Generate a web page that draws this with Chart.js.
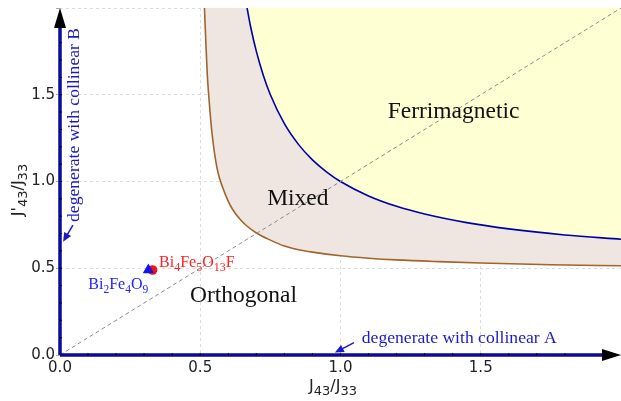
<!DOCTYPE html>
<html>
<head>
<meta charset="utf-8">
<script src="https://cdn.jsdelivr.net/npm/chart.js@4.4.0/dist/chart.umd.min.js"></script>
<style>
  html, body { margin: 0; padding: 0; background: #fff; overflow: hidden; }
  #wrap { width: 621px; height: 401px; }
</style>
</head>
<body>
<div id="wrap"><canvas id="phaseChart"></canvas></div>
<script>
// boundary Orthogonal / Mixed (brown curve)
const mixedX = [0.515, 0.52, 0.525, 0.53, 0.537, 0.545, 0.555, 0.565, 0.58, 0.6, 0.615, 0.635, 0.66, 0.7, 0.75, 0.8, 0.85, 0.9, 1.0, 1.1, 1.2, 1.35, 1.5, 1.75, 2.0];
const mixedY = [2.0, 1.8, 1.62, 1.5, 1.36, 1.235, 1.12, 1.04, 0.965, 0.885, 0.84, 0.795, 0.752, 0.703, 0.662, 0.628, 0.607, 0.593, 0.572, 0.558, 0.548, 0.538, 0.53, 0.52, 0.514];

// boundary Mixed / Ferrimagnetic (blue curve)
const ferriX = [0.667, 0.68, 0.7, 0.725, 0.75, 0.8, 0.85, 0.9, 0.95, 1.0, 1.1, 1.2, 1.3, 1.45, 1.6, 1.8, 2.0];
const ferriY = [2.0, 1.889, 1.75, 1.611, 1.5, 1.333, 1.214, 1.125, 1.056, 1.0, 0.917, 0.857, 0.8125, 0.763, 0.727, 0.692, 0.667];

// J'43 = J43 guide line
const diagX = [0, 2];
const diagY = [0, 2];

const tickValues = [0, 0.5, 1.0, 1.5];

// compounds: [text, subscript?] pieces
const compoundNames = [
  [['Bi', 0], ['2', 1], ['Fe', 0], ['4', 1], ['O', 0], ['9', 1]],
  [['Bi', 0], ['4', 1], ['Fe', 0], ['5', 1], ['O', 0], ['13', 1], ['F', 0]]
];
const compoundX = [0.315, 0.33];
const compoundY = [0.49, 0.49];

const regionNames = ['Ferrimagnetic', 'Mixed', 'Orthogonal'];
const regionX = [1.403, 0.848, 0.654];
const regionY = [1.364, 0.865, 0.305];

function toPoints(xs, ys) {
  return xs.map((x, i) => ({ x: x, y: ys[i] }));
}

function drawRich(ctx, parts, x, y, size, subSize, drop, family, color, align) {
  let w = 0;
  parts.forEach(p => {
    ctx.font = (p[1] ? subSize : size) + 'px ' + family;
    w += ctx.measureText(p[0]).width;
  });
  let cx = align === 'center' ? x - w / 2 : x;
  ctx.fillStyle = color;
  ctx.textAlign = 'left';
  ctx.textBaseline = 'alphabetic';
  parts.forEach(p => {
    ctx.font = (p[1] ? subSize : size) + 'px ' + family;
    ctx.fillText(p[0], cx, y + (p[1] ? drop : 0));
    cx += ctx.measureText(p[0]).width;
  });
}

function arrow(ctx, x1, y1, x2, y2, color) {
  const a = Math.atan2(y2 - y1, x2 - x1);
  ctx.strokeStyle = color;
  ctx.fillStyle = color;
  ctx.lineWidth = 1.5;
  ctx.beginPath();
  ctx.moveTo(x1, y1);
  ctx.lineTo(x2 - 6 * Math.cos(a), y2 - 6 * Math.sin(a));
  ctx.stroke();
  ctx.beginPath();
  ctx.moveTo(x2, y2);
  ctx.lineTo(x2 - 9 * Math.cos(a) + 4 * Math.sin(a), y2 - 9 * Math.sin(a) - 4 * Math.cos(a));
  ctx.lineTo(x2 - 9 * Math.cos(a) - 4 * Math.sin(a), y2 - 9 * Math.sin(a) + 4 * Math.cos(a));
  ctx.closePath();
  ctx.fill();
}

const decor = {
  id: 'decor',
  afterDatasetsDraw(chart) {
    const ctx = chart.ctx;
    const xs = chart.scales.x, ys = chart.scales.y;
    const area = chart.chartArea;
    const px = v => xs.getPixelForValue(v);
    const py = v => ys.getPixelForValue(v);
    const x0 = px(0), y0 = py(0);
    ctx.save();

    // axes in blue with black arrow heads
    ctx.strokeStyle = '#0b0b9a';
    ctx.lineWidth = 3.5;
    ctx.beginPath();
    ctx.moveTo(x0, y0);
    ctx.lineTo(area.right - 16, y0);
    ctx.moveTo(x0, y0);
    ctx.lineTo(x0, area.top + 16);
    ctx.stroke();
    ctx.fillStyle = '#000';
    ctx.beginPath();
    ctx.moveTo(area.right, y0);
    ctx.lineTo(area.right - 19, y0 - 6);
    ctx.lineTo(area.right - 19, y0 + 6);
    ctx.closePath();
    ctx.fill();
    ctx.beginPath();
    ctx.moveTo(x0, area.top);
    ctx.lineTo(x0 - 6, area.top + 20);
    ctx.lineTo(x0 + 6, area.top + 20);
    ctx.closePath();
    ctx.fill();

    // minor ticks
    ctx.strokeStyle = '#000';
    ctx.lineWidth = 1;
    for (let i = 1; i < 19; i++) {
      const v = i / 10;
      ctx.beginPath();
      ctx.moveTo(px(v), y0 - 2);
      ctx.lineTo(px(v), y0 + 1);
      ctx.moveTo(x0 - 1, py(v));
      ctx.lineTo(x0 + 2, py(v));
      ctx.stroke();
    }

    // axis titles
    drawRich(ctx, [['J', 0], ['43', 1], ['/J', 0], ['33', 1]], 333, 391, 16, 13, 4, '"DejaVu Sans"', '#222', 'center');
    ctx.save();
    ctx.translate(23, 190);
    ctx.rotate(-Math.PI / 2);
    drawRich(ctx, [["J'", 0], ['43', 1], ['/J', 0], ['33', 1]], 0, 0, 16, 13, 4, '"DejaVu Sans"', '#222', 'center');
    ctx.restore();

    // region names
    ctx.font = '23.5px "Liberation Serif"';
    ctx.fillStyle = '#111';
    ctx.textAlign = 'center';
    ctx.textBaseline = 'alphabetic';
    regionNames.forEach((n, i) => ctx.fillText(n, px(regionX[i]), py(regionY[i])));

    // compound labels
    drawRich(ctx, compoundNames[0], px(0.101), py(0.38), 16, 11.5, 4, '"Liberation Serif"', '#2222ff', 'left');
    drawRich(ctx, compoundNames[1], px(0.353), py(0.507), 16, 12, 4, '"Liberation Serif"', '#ff2222', 'left');

    // degenerate notes
    const noteColor = '#1a1ac4';
    ctx.font = '17.6px "Liberation Serif"';
    ctx.fillStyle = noteColor;
    ctx.textAlign = 'left';
    ctx.fillText('degenerate with collinear A', px(1.076), py(0.069));
    arrow(ctx, px(1.048), py(0.071), px(0.98), py(0.014), noteColor);
    ctx.save();
    ctx.translate(px(0.068), py(0.767));
    ctx.rotate(-Math.PI / 2);
    ctx.fillStyle = noteColor;
    ctx.fillText('degenerate with collinear B', 0, 0);
    ctx.restore();
    arrow(ctx, px(0.046), py(0.749), px(0.011), py(0.653), noteColor);

    ctx.restore();
  }
};

const tickFont = { family: '"DejaVu Sans"', size: 15 };
const tickLabel = v => tickValues.includes(v) ? v.toFixed(1) : '';

new Chart(document.getElementById('phaseChart'), {
  type: 'scatter',
  data: {
    datasets: [
      {
        label: 'Bi2Fe4O9',
        data: toPoints([compoundX[0]], [compoundY[0]]),
        pointStyle: 'triangle',
        pointRadius: 6.5,
        backgroundColor: '#1414ee',
        borderWidth: 0,
        order: 0
      },
      {
        label: 'Bi4Fe5O13F',
        data: toPoints([compoundX[1]], [compoundY[1]]),
        pointStyle: 'circle',
        pointRadius: 4.8,
        backgroundColor: '#ee1414',
        borderWidth: 0,
        order: 1
      },
      {
        label: 'diagonal',
        data: toPoints(diagX, diagY),
        showLine: true,
        borderColor: '#8a8a8a',
        borderWidth: 1,
        borderDash: [4, 3],
        pointRadius: 0,
        order: 2
      },
      {
        label: 'ferrimagnetic',
        data: toPoints(ferriX, ferriY),
        showLine: true,
        cubicInterpolationMode: 'monotone',
        borderColor: '#0000a8',
        borderWidth: 1.6,
        backgroundColor: '#ffffd4',
        fill: 'end',
        pointRadius: 0,
        order: 3
      },
      {
        label: 'mixed',
        data: toPoints(mixedX, mixedY),
        showLine: true,
        cubicInterpolationMode: 'monotone',
        borderColor: '#a0642d',
        borderWidth: 1.6,
        backgroundColor: '#efe6e1',
        fill: 'end',
        pointRadius: 0,
        order: 4
      }
    ]
  },
  options: {
    responsive: true,
    maintainAspectRatio: false,
    animation: false,
    layout: { autoPadding: false, padding: { top: 8, right: 0, left: 0, bottom: 0 } },
    plugins: {
      legend: { display: false },
      tooltip: { enabled: false }
    },
    scales: {
      x: {
        type: 'linear',
        min: 0,
        max: 2,
        afterFit: s => { s.height = 46; s.paddingLeft = 0; s.paddingRight = 0; },
        ticks: { stepSize: 0.5, callback: tickLabel, font: tickFont, color: '#222', maxRotation: 0, padding: 4 },
        grid: { color: '#dcdcdc', drawTicks: false },
        border: { display: false, dash: [3, 3] }
      },
      y: {
        type: 'linear',
        min: 0,
        max: 2,
        afterFit: s => { s.width = 60; s.paddingTop = 0; s.paddingBottom = 0; },
        ticks: { stepSize: 0.5, callback: tickLabel, font: tickFont, color: '#222', padding: 1 },
        grid: { color: '#dcdcdc', tickLength: 4, tickColor: '#aaa' },
        border: { display: false, dash: [3, 3] }
      }
    }
  },
  plugins: [decor]
});
</script>
</body>
</html>
